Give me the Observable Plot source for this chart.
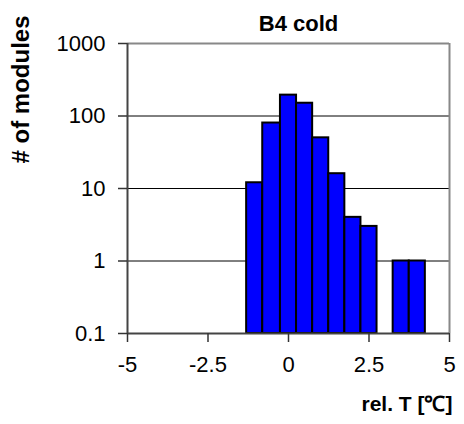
<!DOCTYPE html>
<html><head><meta charset="utf-8">
<script src="https://cdn.jsdelivr.net/npm/d3@7"></script>
<script src="https://cdn.jsdelivr.net/npm/@observablehq/plot@0.6"></script>
<style>body{margin:0;background:#fff}</style>
</head><body><div id="chart"></div>
<script>
const binLo = [-1.3, -0.8, -0.25, 0.25, 0.75, 1.25, 1.75, 2.25, 3.25, 3.75];
const binHi = [-0.8, -0.25, 0.25, 0.75, 1.25, 1.75, 2.25, 2.75, 3.75, 4.25];
const counts = [12, 80, 194, 150, 50, 16, 4, 3, 1, 1];
const xTicks = [-5, -2.5, 0, 2.5, 5];
const yTicks = [0.1, 1, 10, 100, 1000];
const gridVals = [1, 10, 100];
const titleText = "B4 cold";
const xLabel = "rel. T [\u2103]";
const yLabel = "# of modules";

const rows = counts.map((c, i) => ({lo: binLo[i], hi: binHi[i], count: c}));
const font = "'Liberation Sans', Arial, sans-serif";

const chart = Plot.plot({
  width: 464,
  height: 424,
  marginLeft: 127,
  marginRight: 15,
  marginTop: 43,
  marginBottom: 91,
  style: {fontFamily: font, fontSize: "22px", color: "#000", background: "#fff"},
  x: {domain: [-5, 5]},
  y: {type: "log", domain: [0.1, 1000]},
  marks: [
    Plot.ruleY(gridVals, {stroke: "#000", strokeWidth: 1}),
    Plot.rect(rows, {x1: "lo", x2: "hi", y1: () => 0.1, y2: "count", fill: "#0000ff", stroke: "#000", strokeWidth: 2}),
    Plot.ruleY([1000], {stroke: "#888", strokeWidth: 2}),
    Plot.ruleX([5], {stroke: "#888", strokeWidth: 2}),
    Plot.ruleX([-5], {stroke: "#444", strokeWidth: 2}),
    Plot.ruleY([0.1], {stroke: "#444", strokeWidth: 2}),
    Plot.axisY({ticks: yTicks, tickFormat: d => String(d), tickSize: 9, tickPadding: 13, stroke: "#333", strokeWidth: 1.5, label: null, fontSize: 22}),
    Plot.axisX({ticks: xTicks, tickFormat: d => String(d), tickSize: 9, tickPadding: 14, stroke: "#333", strokeWidth: 1.5, label: null, fontSize: 22}),
    Plot.text([titleText], {frameAnchor: "top", text: d => d, dx: 10, dy: -13, lineAnchor: "bottom", fontWeight: "bold", fontSize: 22}),
    Plot.text([xLabel], {frameAnchor: "bottom-right", text: d => d, dx: 3, dy: 77, textAnchor: "end", lineAnchor: "bottom", fontWeight: "bold", fontSize: 21}),
    Plot.text([yLabel], {frameAnchor: "top-left", text: d => d, dx: -106, dy: 46, rotate: -90, textAnchor: "middle", lineAnchor: "middle", fontWeight: "bold", fontSize: 24})
  ]
});
document.getElementById("chart").appendChild(chart);
</script>
</body></html>
